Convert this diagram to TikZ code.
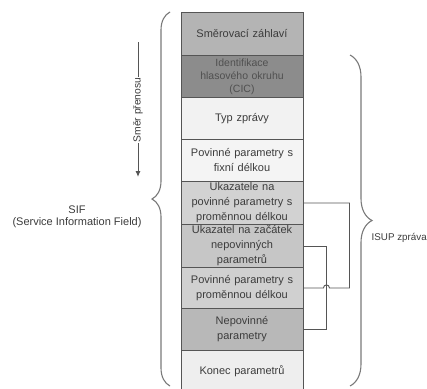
\documentclass[tikz,border=0pt]{standalone}
\usepackage{fontspec}
\setmainfont{Liberation Sans}
\usetikzlibrary{arrows.meta,decorations.pathreplacing,calc}
\definecolor{ink}{HTML}{3C3C3C}
\definecolor{edge}{HTML}{555555}
\definecolor{brc}{HTML}{7A7A7A}
\tikzset{
  field/.style={draw=edge, line width=0.9pt, minimum width=122pt, inner sep=0pt,
    anchor=north, align=center, text width=120pt, text=ink,
    font=\fontsize{11}{15}\selectfont},
  link/.style={draw=edge, line width=0.9pt},
  bracket/.style={draw=brc, line width=1.1pt, decorate},
  lbl/.style={text=ink, font=\fontsize{10.3}{12}\selectfont, inner sep=0pt}
}
\begin{document}
\begin{tikzpicture}[x=1pt,y=-1pt]
\useasboundingbox (0,0) rectangle (427,388);
\fill[white] (0,0) rectangle (427,388);

% message fields, top to bottom
\node[field, fill={rgb,255:red,180;green,180;blue,180}, minimum height=43pt] (b1) at (242,12) {Směrovací záhlaví};
\node[field, fill={rgb,255:red,140;green,140;blue,140}, minimum height=42pt, text={rgb,255:red,80;green,80;blue,80}, font=\fontsize{10.5}{13}\selectfont] (b2) at (242,55) {Identifikace\\hlasového okruhu\\(CIC)};
\node[field, fill={rgb,255:red,242;green,242;blue,242}, minimum height=42pt] (b3) at (242,97) {Typ zprávy};
\node[field, fill={rgb,255:red,244;green,244;blue,244}, minimum height=42pt] (b4) at (242,139) {Povinné parametry s\\fixní délkou};
\node[field, fill={rgb,255:red,210;green,210;blue,210}, minimum height=43pt] (b5) at (242,181) {Ukazatele na\\povinné parametry s\\proměnnou délkou};
\node[field, fill={rgb,255:red,198;green,198;blue,198}, minimum height=43pt] (b6) at (242,224) {Ukazatel na začátek\\nepovinných\\parametrů};
\node[field, fill={rgb,255:red,208;green,208;blue,208}, minimum height=41pt] (b7) at (242,267) {Povinné parametry s\\proměnnou délkou};
\node[field, fill={rgb,255:red,184;green,184;blue,184}, minimum height=42pt] (b8) at (242,308) {Nepovinné\\parametry};
\node[field, fill={rgb,255:red,238;green,238;blue,238}, minimum height=42pt] (b9) at (242,350) {Konec parametrů};

% pointer links on the right side
\draw[link] (b6.east) -- ++(23,0) |- (b8.east);
\draw[link] (b5.east) -- ++(46,0) |- ($(b7.east)+(26,0)$)
  .. controls ($(b7.east)+(26,-4)$) and ($(b7.east)+(20,-4)$) .. ($(b7.east)+(20,0)$)
  -- (b7.east);

% transfer direction
\coordinate (dtop) at (138,42);
\coordinate (dbot) at (138,177);
\draw[draw=edge, line width=1pt, -{Latex[length=6pt,width=5pt]}] (dtop) -- (dbot);
\node[lbl, fill=white, rotate=90, inner xsep=1pt] (dir) at (138,110) {Směr přenosu};

% braces
\draw[bracket, decoration={brace, amplitude=18pt}] (170,386) -- (170,12);
\draw[bracket, decoration={brace, amplitude=22pt}] (350,55) -- (350,386);

\node[lbl, align=center, font=\fontsize{11}{12}\selectfont] (sif) at (77,217) {SIF\\(Service Information Field)};
\node[lbl, anchor=west, font=\fontsize{9.8}{12}\selectfont] (isup) at (371.5,238) {ISUP zpráva};
\end{tikzpicture}
\end{document}
